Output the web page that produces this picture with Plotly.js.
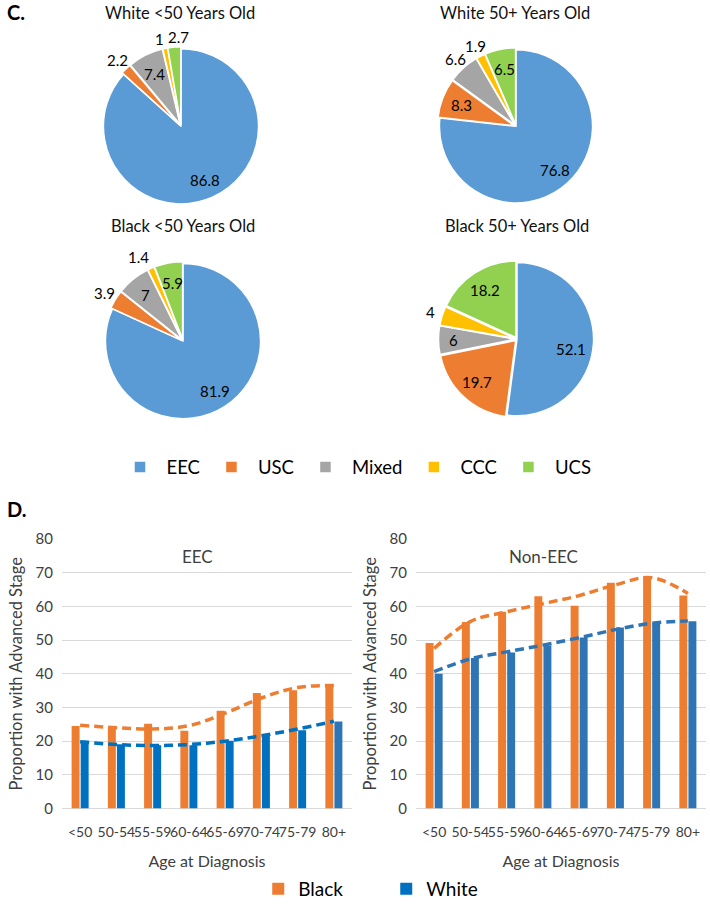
<!DOCTYPE html>
<html><head><meta charset="utf-8">
<script src="https://cdn.plot.ly/plotly-3.0.1.min.js"></script>
<style>html,body{margin:0;padding:0;background:#fff}#chart{width:710px;height:908px}</style>
</head><body><div id="chart"></div>
<script>
// ---------- DATA ----------
var histTypes = ['EEC', 'USC', 'Mixed', 'CCC', 'UCS'];
var pieColors = ['#5B9BD5', '#ED7D31', '#A5A5A5', '#FFC000', '#92D050'];
var pieTitles = ['White <50 Years Old', 'White 50+ Years Old', 'Black <50 Years Old', 'Black 50+ Years Old'];
var whiteUnder50 = [86.8, 2.2, 7.4, 1, 2.7];
var white50plus  = [76.8, 8.3, 6.6, 1.9, 6.5];
var blackUnder50 = [81.9, 3.9, 7, 1.4, 5.9];
var black50plus  = [52.1, 19.7, 6, 4, 18.2];

var ageGroups = ['<50', '50-54', '55-59', '60-64', '65-69', '70-74', '75-79', '80+'];
var eecBlack    = [24.5, 24.2, 25.2, 23.1, 29.0, 34.3, 35.1, 36.1];
var eecWhite    = [20.1, 19.1, 18.8, 18.8, 20.1, 21.9, 23.2, 25.8];
var nonEecBlack = [49.1, 55.4, 58.4, 63.0, 60.2, 67.0, 68.9, 63.2];
var nonEecWhite = [40.0, 44.7, 46.3, 48.4, 50.8, 53.7, 55.0, 55.6];
// trendlines
var eecBlackTrend    = [24.7, 24.0, 23.6, 24.6, 28.3, 32.8, 35.9, 36.5];
var eecWhiteTrend    = [19.8, 19.0, 18.7, 19.0, 20.0, 21.6, 23.6, 25.9];
var nonEecBlackTrend = [47.5, 55.5, 58.4, 60.8, 63.2, 66.4, 68.5, 63.8];
var nonEecWhiteTrend = [40.6, 44.4, 46.5, 48.5, 50.7, 53.1, 55.0, 55.7];

// ---------- LAYOUT HELPERS ----------
var W = 710, H = 908;
var FONT = 'Lato, "Open Sans", sans-serif';
var PULL = 0.025;
function pieDomain(cx, cy, r) {
  var R = r * (1 + PULL);
  return { x: [(cx - R) / W, (cx + R) / W], y: [(H - cy - R) / H, (H - cy + R) / H] };
}
var pieGeom = [[181, 127, 78], [516, 127, 77], [183, 343, 78], [517, 341, 77]];
var pieVals = [whiteUnder50, white50plus, blackUnder50, black50plus];
var piePos = [
  ['inside', 'outside', 'inside', 'outside', 'outside'],
  ['inside', 'inside', 'outside', 'outside', 'inside'],
  ['inside', 'outside', 'inside', 'outside', 'inside'],
  ['inside', 'inside', 'inside', 'outside', 'inside']
];
// small label nudges (px) to avoid collisions, like Excel does
var labelNudge = { '0-3': [-3, 2], '0-4': [5, 2], '2-3': [-7, 0], '3-2': [-5, 0], '3-0': [-4, 6] };

var traces = [];
var annotations = [];
pieVals.forEach(function (vals, i) {
  var g = pieGeom[i];
  traces.push({
    type: 'pie', labels: histTypes, values: vals, sort: false, direction: 'clockwise', rotation: 0,
    domain: pieDomain(g[0], g[1], g[2]),
    marker: { colors: pieColors, line: { color: '#ffffff', width: 1.5 } },
    pull: [0, PULL, PULL, PULL, PULL],
    textinfo: 'none', showlegend: i === 0, legend: 'legend', hoverinfo: 'label+value'
  });
  // data labels placed along each slice's mid-angle
  var total = vals.reduce(function (a, b) { return a + b; }, 0), cum = 0;
  vals.forEach(function (v, j) {
    var mid = (cum + v / 2) / total * 2 * Math.PI; cum += v;
    var f = piePos[i][j] === 'inside' ? 0.76 : 1.18;
    var nd = labelNudge[i + '-' + j] || [0, 0];
    var px = g[0] + Math.sin(mid) * g[2] * f + nd[0];
    var py = g[1] - Math.cos(mid) * g[2] * f + nd[1];
    annotations.push({ text: String(v), x: px / W, y: 1 - py / H, xanchor: 'center', yanchor: 'middle',
      font: { family: FONT, size: 15, color: '#000' } });
  });
});

var orange = '#ED7D31', blueDark = '#0070C0', blue = '#2E75B6';
function bar(x, y, name, color, xa, ya, show) {
  return { type: 'bar', x: x, y: y, name: name, marker: { color: color }, xaxis: xa, yaxis: ya,
    showlegend: show, legend: 'legend2', legendgroup: name };
}
function trend(x, y, color, xa, ya) {
  return { type: 'scatter', mode: 'lines', x: x, y: y, xaxis: xa, yaxis: ya, showlegend: false,
    line: { color: color, width: 3.5, dash: '9px,5px', shape: 'spline', smoothing: 1.1 }, hoverinfo: 'skip' };
}
var eecWhiteColors = ageGroups.map(function (a, k) { return k === ageGroups.length - 1 ? blue : blueDark; });
var b1 = bar(ageGroups, eecBlack, 'Black', orange, 'x', 'y', true);
var b2 = bar(ageGroups, eecWhite, 'White', blue, 'x', 'y', true);
b2.marker.color = eecWhiteColors;
traces.push(b1, b2);
traces.push(bar(ageGroups, nonEecBlack, 'Black', orange, 'x2', 'y2', false));
traces.push(bar(ageGroups, nonEecWhite, 'White', blue, 'x2', 'y2', false));
traces.push(trend(ageGroups, eecBlackTrend, orange, 'x', 'y'));
traces.push(trend(ageGroups, eecWhiteTrend, blueDark, 'x', 'y'));
traces.push(trend(ageGroups, nonEecBlackTrend, orange, 'x2', 'y2'));
traces.push(trend(ageGroups, nonEecWhiteTrend, blue, 'x2', 'y2'));

var yBottom = (H - 813) / H, yTop = (H - 542) / H;
function xAxis(dom) {
  return { domain: dom, type: 'category', showgrid: false, zeroline: false, showline: false, ticks: '',
    tickfont: { family: FONT, size: 14, color: '#404040' }, tickangle: 0, ticklabelstandoff: 13,
    title: { text: 'Age at Diagnosis', font: { family: FONT, size: 16, color: '#404040' }, standoff: 17 } };
}
function yAxis(anchor) {
  return { domain: [yBottom, yTop], range: [0, 80], dtick: 10, anchor: anchor, showgrid: true, gridcolor: '#D9D9D9',
    zeroline: true, zerolinecolor: '#D9D9D9', zerolinewidth: 1, showline: false, ticks: '', ticklabelstandoff: 8,
    tickfont: { family: FONT, size: 15, color: '#404040' },
    title: { text: 'Proportion with Advanced Stage', font: { family: FONT, size: 16.5, color: '#404040' }, standoff: 8 } };
}
var xa1 = xAxis([62 / W, 352 / W]); xa1.anchor = 'y';
var xa2 = xAxis([416 / W, 706 / W]); xa2.anchor = 'y2';

var annFont = { family: FONT, size: 16.5, color: '#111', weight: 'normal' };
annotations.push(
  { text: '<b>C.</b>', x: 5 / W, y: 1 - 12 / H, xanchor: 'left', yanchor: 'middle', font: { family: FONT, size: 20, color: '#000' } },
  { text: '<b>D.</b>', x: 5 / W, y: 1 - 512 / H, xanchor: 'left', yanchor: 'middle', font: { family: FONT, size: 20, color: '#000' } },
  { text: pieTitles[0], x: 180 / W, y: 1 - 13 / H, xanchor: 'center', yanchor: 'middle', font: annFont },
  { text: pieTitles[1], x: 515 / W, y: 1 - 13 / H, xanchor: 'center', yanchor: 'middle', font: annFont },
  { text: pieTitles[2], x: 183 / W, y: 1 - 227 / H, xanchor: 'center', yanchor: 'middle', font: annFont },
  { text: pieTitles[3], x: 517 / W, y: 1 - 227 / H, xanchor: 'center', yanchor: 'middle', font: annFont },
  { text: 'EEC', x: 197 / W, y: 1 - 560 / H, xanchor: 'center', yanchor: 'middle', font: { family: FONT, size: 17, color: '#404040' } },
  { text: 'Non-EEC', x: 543 / W, y: 1 - 560 / H, xanchor: 'center', yanchor: 'middle', font: { family: FONT, size: 17, color: '#404040' } }
);
annotations.forEach(function (a) { a.xref = 'paper'; a.yref = 'paper'; a.showarrow = false; });

var layout = {
  width: W, height: H, margin: { l: 0, r: 0, t: 0, b: 0 }, paper_bgcolor: '#fff', plot_bgcolor: '#fff',
  font: { family: FONT, color: '#404040' },
  barmode: 'group', bargap: 0.5, bargroupgap: 0.12,
  xaxis: xa1, yaxis: yAxis('x'), xaxis2: xa2, yaxis2: yAxis('x2'),
  legend: { orientation: 'h', x: 0.5, xanchor: 'center', y: 1 - 470 / H, yanchor: 'middle',
    font: { family: FONT, size: 18.5, color: '#000' }, traceorder: 'normal', itemwidth: 43 },
  legend2: { orientation: 'h', x: 0.544, xanchor: 'center', y: 1 - 894 / H, yanchor: 'middle',
    font: { family: FONT, size: 19, color: '#000' }, itemwidth: 30, entrywidth: 83, entrywidthmode: 'pixels' },
  annotations: annotations
};
Plotly.newPlot('chart', traces, layout, { displayModeBar: false, staticPlot: true });
</script></body></html>
